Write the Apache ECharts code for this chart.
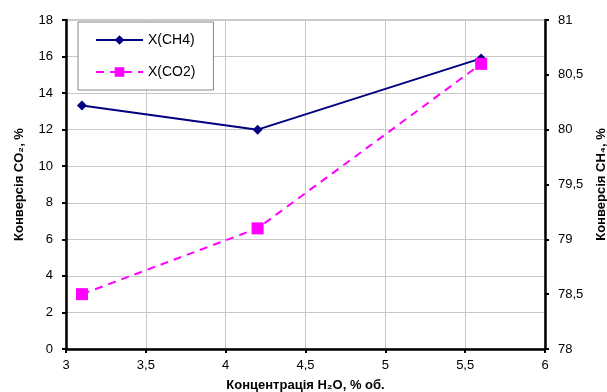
<!DOCTYPE html>
<html><head><meta charset="utf-8">
<script src="https://cdn.jsdelivr.net/npm/echarts@6/dist/echarts.min.js"></script>
<style>html,body{margin:0;padding:0;background:#fff}#c{width:607px;height:392px}</style>
</head><body><div id="c"></div>
<script>
var xValues = [3.1, 4.2, 5.6];
var ch4Values = [80.22, 80.0, 80.65];
var co2Values = [3.0, 6.6, 15.6];
var seriesNames = ['X(CH4)', 'X(CO2)'];
var xTitle = 'Концентрація H₂O, % об.';
var yLeftTitle = 'Конверсія CO₂, %';
var yRightTitle = 'Конверсія CH₄, %';

function fmt(v){ return String(v).replace('.', ','); }
var font = 'Liberation Sans, Arial, sans-serif';
var chart = echarts.init(document.getElementById('c'), null, {renderer:'canvas'});
chart.setOption({
  animation:false,
  backgroundColor:'#fff',
  grid:{left:66,right:62,top:20,bottom:43,containLabel:false,outerBoundsMode:'none',show:true,borderColor:'#999',borderWidth:1},
  legend:{
    left:78, top:22, orient:'vertical', itemGap:18, padding:[11,18,11,17],
    backgroundColor:'#fff', borderColor:'#888', borderWidth:1,
    itemWidth:47, itemHeight:12,
    textStyle:{fontFamily:font,fontSize:14,color:'#000'},
    data:[{name:seriesNames[0]},{name:seriesNames[1]}]
  },
  xAxis:{
    type:'value', min:3, max:6, interval:0.5,
    name:xTitle, nameLocation:'middle', nameGap:30,
    nameTextStyle:{fontFamily:font,fontSize:13,fontWeight:'bold',color:'#000'},
    axisLine:{onZero:false,lineStyle:{color:'#000',width:2.5}},
    axisTick:{show:true,length:4,lineStyle:{color:'#000',width:2}},
    axisLabel:{fontFamily:font,fontSize:13,color:'#000',margin:10,formatter:fmt},
    splitLine:{show:true,lineStyle:{color:'#c8c8c8',width:1}}
  },
  yAxis:[{
    type:'value', min:0, max:18, interval:2, position:'left',
    name:yLeftTitle, nameLocation:'middle', nameGap:40, nameRotate:90,
    nameTextStyle:{fontFamily:font,fontSize:13,fontWeight:'bold',color:'#000'},
    axisLine:{show:true,onZero:false,lineStyle:{color:'#000',width:2.5}},
    axisTick:{show:true,length:4,lineStyle:{color:'#000',width:2}},
    axisLabel:{fontFamily:font,fontSize:13,color:'#000',margin:13,formatter:fmt},
    splitLine:{show:true,lineStyle:{color:'#c8c8c8',width:1}}
  },{
    type:'value', min:78, max:81, interval:0.5, position:'right',
    name:yRightTitle, nameLocation:'middle', nameGap:50, nameRotate:90,
    nameTextStyle:{fontFamily:font,fontSize:13,fontWeight:'bold',color:'#000'},
    axisLine:{show:true,onZero:false,lineStyle:{color:'#000',width:2.5}},
    axisTick:{show:true,length:4,lineStyle:{color:'#000',width:2}},
    axisLabel:{fontFamily:font,fontSize:13,color:'#000',margin:13,formatter:fmt},
    splitLine:{show:false}
  }],
  series:[{
    name:seriesNames[0], type:'line', yAxisIndex:1,
    data:xValues.map(function(x,i){return [x,ch4Values[i]];}),
    symbol:'diamond', symbolSize:10,
    lineStyle:{color:'#000080',width:2}, itemStyle:{color:'#000080'}
  },{
    name:seriesNames[1], type:'line', yAxisIndex:0,
    data:xValues.map(function(x,i){return [x,co2Values[i]];}),
    symbol:'rect', symbolSize:12,
    lineStyle:{color:'#ff00ff',width:2,type:[8,6]}, itemStyle:{color:'#ff00ff'}
  }]
});
</script></body></html>
